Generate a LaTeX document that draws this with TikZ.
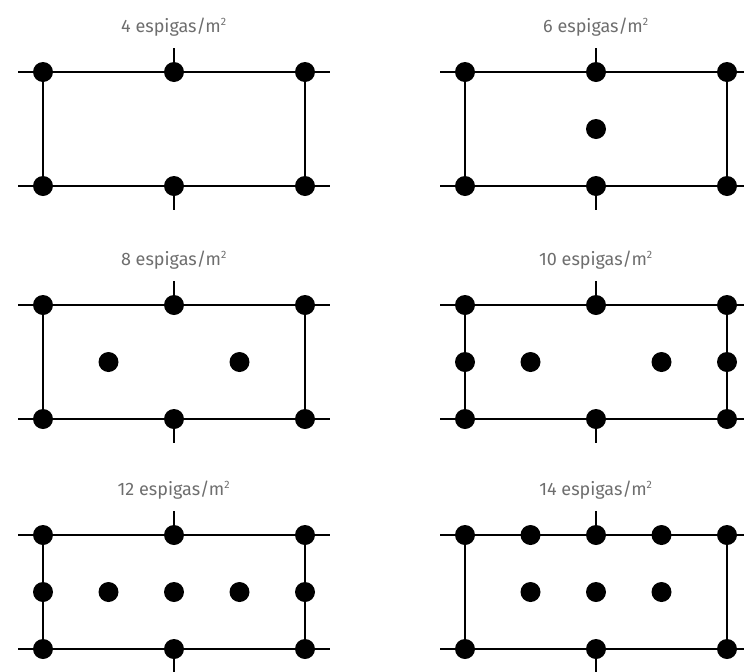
\documentclass[tikz,border=0pt]{standalone}
\usepackage{fontspec}
\setmainfont{Fira Sans}
\usepackage{tikz}
\usetikzlibrary{calc}

\definecolor{labelgray}{RGB}{110,110,110}

\begin{document}
\begin{tikzpicture}[x=0.75pt,y=-0.75pt]
    \tikzset{
      frame/.style={line width=1.6pt,black},
      spike/.style={circle,fill=black,inner sep=0pt,minimum size=15pt},
      panellabel/.style={text=labelgray,font=\fontsize{13.5}{15}\selectfont}
    }
    \useasboundingbox (0,0) rectangle (744,672);

    % six frames: top left corner and number of spikes
    \foreach \px/\py/\n in {43/72/4, 465/72/6, 43/305/8, 465/305/10, 43/535/12, 465/535/14}{
      \begin{scope}[shift={(\px,\py)}]
        \coordinate (tl\n) at (0,0);
        \coordinate (tr\n) at (262,0);
        \coordinate (br\n) at (262,114);
        \coordinate (bl\n) at (0,114);
        \coordinate (tw\n) at (-25,0);
        \coordinate (te\n) at (287,0);
        \coordinate (bw\n) at (-25,114);
        \coordinate (be\n) at (287,114);
        \coordinate (tn\n) at (131,-24);
        \coordinate (bs\n) at (131,138);

        \draw[frame] (tw\n) -- (te\n);
        \draw[frame] (bw\n) -- (be\n);
        \draw[frame] (tl\n) -- (bl\n);
        \draw[frame] (tr\n) -- (br\n);

        \node[panellabel] (lab\n) at (131,-45) {\n\ espigas/m\textsuperscript{\footnotesize 2}};

        \node[spike] (ta\n) at (tl\n) {};
        \node[spike] (tb\n) at (131,0) {};
        \node[spike] (tc\n) at (tr\n) {};
        \node[spike] (ba\n) at (bl\n) {};
        \node[spike] (bb\n) at (131,114) {};
        \node[spike] (bc\n) at (br\n) {};

        \draw[frame] (tn\n) -- (tb\n.center);
        \draw[frame] (bb\n.center) -- (bs\n);
      \end{scope}
    }

    % extra spikes
    \node[spike] (m6) at ($(tl6)+(131,57)$) {};

    \node[spike] (ma8) at ($(tl8)+(65.5,57)$) {};
    \node[spike] (mb8) at ($(tl8)+(196.5,57)$) {};

    \node[spike] (ma10) at ($(tl10)+(0,57)$) {};
    \node[spike] (mb10) at ($(tl10)+(65.5,57)$) {};
    \node[spike] (mc10) at ($(tl10)+(196.5,57)$) {};
    \node[spike] (md10) at ($(tl10)+(262,57)$) {};

    \node[spike] (ma12) at ($(tl12)+(0,57)$) {};
    \node[spike] (mb12) at ($(tl12)+(65.5,57)$) {};
    \node[spike] (mc12) at ($(tl12)+(131,57)$) {};
    \node[spike] (md12) at ($(tl12)+(196.5,57)$) {};
    \node[spike] (me12) at ($(tl12)+(262,57)$) {};

    \node[spike] (ua14) at ($(tl14)+(65.5,0)$) {};
    \node[spike] (ub14) at ($(tl14)+(196.5,0)$) {};
    \node[spike] (ma14) at ($(tl14)+(65.5,57)$) {};
    \node[spike] (mb14) at ($(tl14)+(131,57)$) {};
    \node[spike] (mc14) at ($(tl14)+(196.5,57)$) {};
\end{tikzpicture}
\end{document}
